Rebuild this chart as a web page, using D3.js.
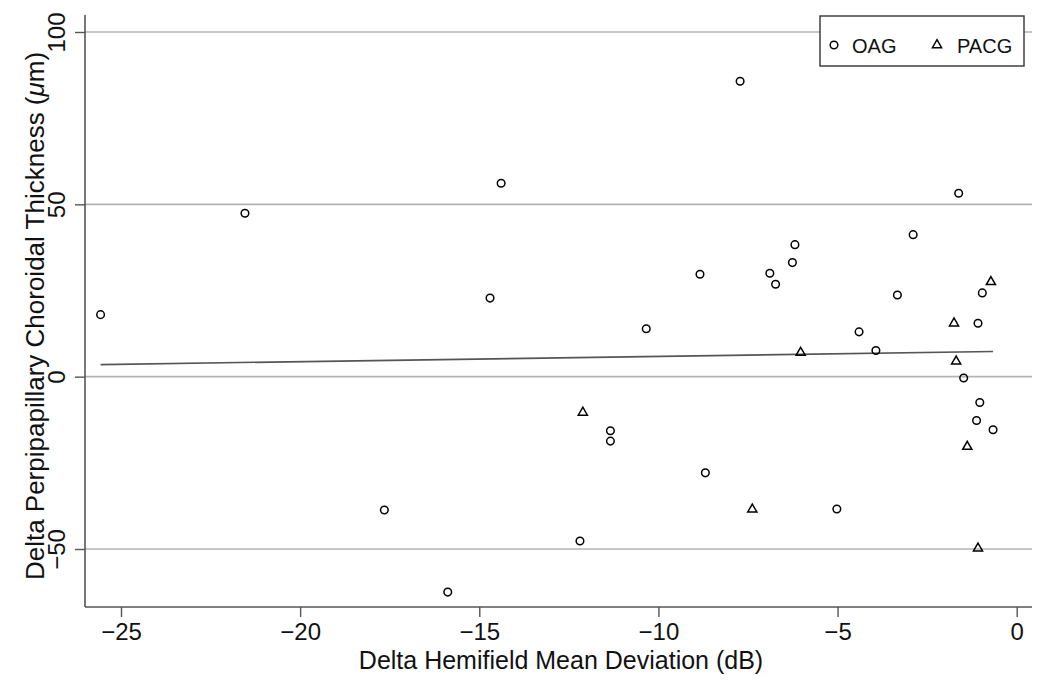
<!DOCTYPE html>
<html><head><meta charset="utf-8">
<script src="https://cdn.jsdelivr.net/npm/d3@7"></script>
<style>
html,body{margin:0;padding:0;background:#fff;}
svg{display:block;font-family:"Liberation Sans",Arial,Helvetica,sans-serif;}
</style></head>
<body><svg id="chart" width="1050" height="680"></svg>
<script>
// OAG (circles)
const oagX = [-25.57,-21.54,-17.65,-15.88,-14.70,-14.39,-12.19,-11.34,-11.34,-10.34,-8.84,-8.69,-7.72,-6.89,-6.73,-6.19,-6.26,-5.02,-4.40,-3.93,-3.33,-2.89,-1.62,-1.48,-1.08,-0.96,-1.03,-1.12,-0.66];
const oagY = [18.0,47.4,-38.7,-62.5,22.8,56.1,-47.7,-15.7,-18.7,13.9,29.7,-27.9,85.7,30.0,26.8,38.3,33.1,-38.4,13.0,7.6,23.7,41.2,53.2,-0.4,15.5,24.3,-7.5,-12.7,-15.4];
// PACG (triangles)
const pacgX = [-12.11,-7.38,-6.03,-1.75,-1.69,-1.38,-1.08,-0.72];
const pacgY = [-10.4,-38.5,7.0,15.5,4.45,-20.3,-49.8,27.5];
// fitted line endpoints
const fitX = [-25.57,-0.66];
const fitY = [3.5,7.3];
// ticks
const xTicks = [-25,-20,-15,-10,-5,0];
const yTicks = [-50,0,50,100];
const seriesNames = ["OAG","PACG"];

(function(){
const svg = d3.select("#chart");
const x = d3.scaleLinear().domain([-25,0]).range([121,1016.7]);
const y = d3.scaleLinear().domain([-50,100]).range([549,32]);
const pL = 85, pR = 1032, pT = 15, pB = 607;
const FONT = "'Liberation Sans',Arial,sans-serif";
const fmt = d => d<0 ? "\u2212"+Math.abs(d) : String(d);

// gridlines
svg.append("g").selectAll("line").data(yTicks).join("line")
  .attr("x1",pL).attr("x2",pR)
  .attr("y1",d=>y(d)).attr("y2",d=>y(d))
  .attr("stroke","#b3b3b3").attr("stroke-width",1.6);

// axes
const xAxis = svg.append("g").attr("transform",`translate(0,${pB})`)
  .call(d3.axisBottom(x).tickValues(xTicks).tickSize(10).tickPadding(6).tickFormat(fmt));
xAxis.select(".domain").remove();
xAxis.selectAll(".tick line").attr("stroke","#555").attr("stroke-width",1.4);
xAxis.selectAll(".tick text").attr("font-size",24).attr("fill","#111").attr("font-family",FONT);

const yAxis = svg.append("g").attr("transform",`translate(${pL},0)`)
  .call(d3.axisLeft(y).tickValues(yTicks).tickSize(10).tickFormat(""));
yAxis.select(".domain").remove();
yAxis.selectAll(".tick line").attr("stroke","#555").attr("stroke-width",1.4);
yAxis.selectAll(".tick").append("text")
  .attr("transform","translate(-20,0) rotate(-90)")
  .attr("text-anchor","middle")
  .attr("font-size",24).attr("fill","#111")
  .attr("font-family",FONT)
  .text(fmt);

// axis lines
svg.append("line").attr("x1",pL).attr("x2",pR).attr("y1",pB).attr("y2",pB)
  .attr("stroke","#555").attr("stroke-width",1.6);
svg.append("line").attr("x1",pL).attr("x2",pL).attr("y1",pT).attr("y2",pB)
  .attr("stroke","#555").attr("stroke-width",1.6);

// fit line
svg.append("path").datum(d3.zip(fitX,fitY))
  .attr("d",d3.line().x(d=>x(d[0])).y(d=>y(d[1])))
  .attr("stroke","#555").attr("stroke-width",1.6).attr("fill","none");

// OAG circles
svg.append("g").selectAll("circle").data(d3.zip(oagX,oagY)).join("circle")
  .attr("cx",d=>x(d[0])).attr("cy",d=>y(d[1])).attr("r",3.8)
  .attr("fill","none").attr("stroke","#000").attr("stroke-width",1.5);

// PACG triangles
const tri = d3.symbol().type(d3.symbolTriangle).size(36);
svg.append("g").selectAll("path").data(d3.zip(pacgX,pacgY)).join("path")
  .attr("transform",d=>`translate(${x(d[0])},${y(d[1])})`)
  .attr("d",tri()).attr("fill","none").attr("stroke","#000").attr("stroke-width",1.5);

// axis titles
svg.append("text").attr("x",561).attr("y",669).attr("text-anchor","middle")
  .attr("font-size",25).attr("fill","#111").text("Delta Hemifield Mean Deviation (dB)");
const yt = svg.append("text").attr("transform",`translate(44,316) rotate(-90)`)
  .attr("text-anchor","middle").attr("font-size",26).attr("fill","#111");
yt.append("tspan").text("Delta Perpipapillary Choroidal Thickness (");
yt.append("tspan").attr("font-style","italic").text("\u03bc");
yt.append("tspan").text("m)");

// legend
const lg = svg.append("g");
lg.append("rect").attr("x",820).attr("y",16).attr("width",204).attr("height",50)
  .attr("fill","#fff").attr("stroke","#333").attr("stroke-width",1.4);
lg.append("circle").attr("cx",834).attr("cy",45).attr("r",3.8)
  .attr("fill","none").attr("stroke","#000").attr("stroke-width",1.5);
lg.append("text").attr("x",852).attr("y",53).attr("font-size",20).attr("fill","#111").text(seriesNames[0]);
lg.append("path").attr("transform","translate(937,45)").attr("d",tri())
  .attr("fill","none").attr("stroke","#000").attr("stroke-width",1.5);
lg.append("text").attr("x",957).attr("y",53).attr("font-size",20).attr("fill","#111").text(seriesNames[1]);
})();
</script></body></html>
